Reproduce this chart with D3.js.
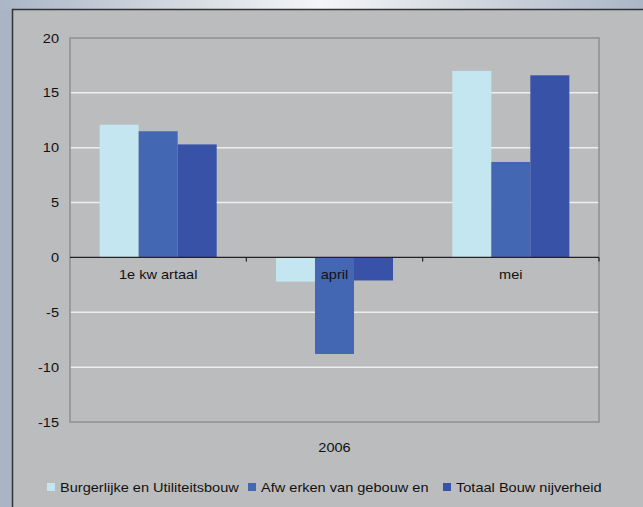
<!DOCTYPE html>
<html>
<head>
<meta charset="utf-8">
<script src="https://cdn.jsdelivr.net/npm/d3@7"></script>
<style>
  body { margin: 0; background: #a9b5c5; }
  svg { display: block; font-family: "Liberation Sans", Arial, sans-serif; }
</style>
</head>
<body>
<div id="chart"></div>
<script>
// Chart data
const categories = ['1e kw artaal', 'april', 'mei'];
const seriesNames = ['Burgerlijke en Utiliteitsbouw', 'Afw erken van gebouw en', 'Totaal Bouw nijverheid'];
const burgerlijke = [12.1, -2.2, 17.0];
const afwerken = [11.5, -8.8, 8.7];
const totaal = [10.3, -2.1, 16.6];
const yTicks = [-15, -10, -5, 0, 5, 10, 15, 20];
const xTitle = '2006';

const colors = ['#c3e6f0', '#4467b4', '#3752a7'];
const series = [burgerlijke, afwerken, totaal];

const width = 643, height = 507;
const plot = { left: 70, right: 599, top: 38, bottom: 422 };
const stretch = 'scale(1.12,1)'; // the original text looks a bit wide

const svg = d3.select('#chart')
    .append('svg')
    .attr('width', width)
    .attr('height', height);

// Outer background with light gradient strip on top
const defs = svg.append('defs');
const grad = defs.append('linearGradient').attr('id', 'topgrad');
grad.append('stop').attr('offset', '0%').attr('stop-color', '#aab6c6');
grad.append('stop').attr('offset', '50%').attr('stop-color', '#f4f5f7');
grad.append('stop').attr('offset', '100%').attr('stop-color', '#aab6c6');

svg.append('rect').attr('width', width).attr('height', height).attr('fill', '#a9b5c5');
svg.append('rect').attr('width', width).attr('height', 10).attr('fill', 'url(#topgrad)');

// Chart panel
svg.append('rect')
    .attr('x', 12.5).attr('y', 9.5)
    .attr('width', width).attr('height', height)
    .attr('fill', '#bbbcbe')
    .attr('stroke', '#333')
    .attr('stroke-width', 1.5);

const x0 = d3.scaleBand()
    .domain(categories)
    .range([plot.left, plot.right])
    .paddingInner(0)
    .paddingOuter(0);

const x1 = d3.scaleBand()
    .domain(d3.range(series.length))
    .range([0, x0.bandwidth()])
    .paddingInner(0)
    .paddingOuter(0.76);

const y = d3.scaleLinear()
    .domain([-15, 20])
    .range([plot.bottom, plot.top]);

// Gridlines
svg.append('g')
    .selectAll('line')
    .data(yTicks.filter(d => d !== 0 && d !== 20 && d !== -15))
    .enter()
    .append('line')
    .attr('x1', plot.left)
    .attr('x2', plot.right)
    .attr('y1', d => y(d))
    .attr('y2', d => y(d))
    .attr('stroke', '#eeeeee')
    .attr('stroke-width', 1.5);

// Plot border
svg.append('rect')
    .attr('x', plot.left).attr('y', plot.top)
    .attr('width', plot.right - plot.left)
    .attr('height', plot.bottom - plot.top)
    .attr('fill', 'none')
    .attr('stroke', '#8e8f91')
    .attr('stroke-width', 1.5);

// Bars
const group = svg.append('g')
    .selectAll('g')
    .data(categories)
    .enter()
    .append('g')
    .attr('transform', d => `translate(${x0(d)},0)`);

group.selectAll('rect')
    .data((d, i) => series.map((s, j) => ({ j, v: s[i] })))
    .enter()
    .append('rect')
    .attr('x', d => x1(d.j))
    .attr('width', x1.bandwidth())
    .attr('y', d => y(Math.max(0, d.v)))
    .attr('height', d => Math.abs(y(d.v) - y(0)))
    .attr('fill', d => colors[d.j]);

// Y axis labels
svg.append('g')
    .selectAll('text')
    .data(yTicks)
    .enter()
    .append('text')
    .attr('transform', d => `translate(59,${y(d)}) ${stretch}`)
    .attr('dy', '0.35em')
    .attr('text-anchor', 'end')
    .style('font-size', '13px')
    .attr('fill', '#111')
    .text(d => d);

// Zero line with category ticks
svg.append('line')
    .attr('x1', plot.left).attr('x2', plot.right)
    .attr('y1', y(0)).attr('y2', y(0))
    .attr('stroke', '#222')
    .attr('stroke-width', 1.2);

svg.append('g')
    .selectAll('line')
    .data(categories.slice(1).concat(['end']))
    .enter()
    .append('line')
    .attr('x1', d => d === 'end' ? plot.right : x0(d))
    .attr('x2', d => d === 'end' ? plot.right : x0(d))
    .attr('y1', y(0))
    .attr('y2', y(0) + 4)
    .attr('stroke', '#222')
    .attr('stroke-width', 1.2);

// Category labels
svg.append('g')
    .selectAll('text')
    .data(categories)
    .enter()
    .append('text')
    .attr('transform', d => `translate(${x0(d) + x0.bandwidth() / 2},${y(0) + 22}) ${stretch}`)
    .attr('text-anchor', 'middle')
    .style('font-size', '13px')
    .attr('fill', '#111')
    .text(d => d);

// X title
svg.append('text')
    .attr('transform', `translate(${(plot.left + plot.right) / 2},452) ${stretch}`)
    .attr('text-anchor', 'middle')
    .style('font-size', '13px')
    .attr('fill', '#111')
    .text(xTitle);

// Legend
const legendX = [47, 248, 443];
const legend = svg.append('g')
    .selectAll('g')
    .data(seriesNames)
    .enter()
    .append('g')
    .attr('transform', (d, i) => `translate(${legendX[i]},${487})`);

legend.append('rect')
    .attr('x', 0).attr('y', -4)
    .attr('width', 8).attr('height', 8)
    .attr('fill', (d, i) => colors[i]);

legend.append('text')
    .attr('transform', `translate(13,0) ${stretch}`)
    .attr('dy', '0.35em')
    .style('font-size', '13px')
    .attr('fill', '#111')
    .text(d => d);
</script>
</body>
</html>
